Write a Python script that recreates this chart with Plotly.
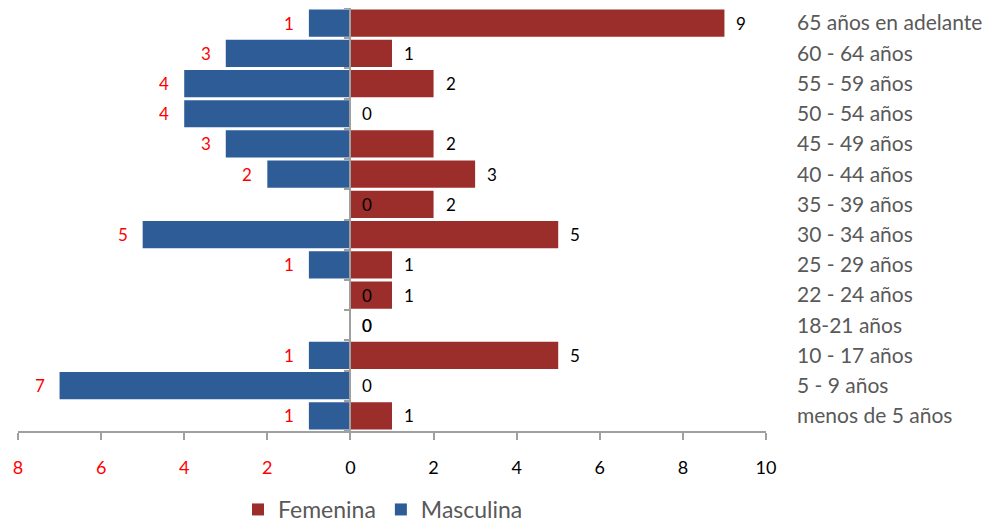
import plotly.graph_objects as go

categories = ["65 años en adelante", "60 - 64 años", "55 - 59 años", "50 - 54 años",
              "45 - 49 años", "40 - 44 años", "35 - 39 años", "30 - 34 años",
              "25 - 29 años", "22 - 24 años", "18-21 años", "10 - 17 años",
              "5 - 9 años", "menos de 5 años"]
femenina = [9, 1, 2, 0, 2, 3, 2, 5, 1, 1, 0, 5, 0, 1]
masculina = [1, 3, 4, 4, 3, 2, 0, 5, 1, 0, 0, 1, 7, 1]
tick_vals = [-8, -6, -4, -2, 0, 2, 4, 6, 8, 10]

RED = "#9B2D2A"
BLUE = "#2D5C96"
GRAY = "#595959"
AXIS = "#A0A0A0"
FONT = "Lato"

n = len(categories)
x_min, x_max = tick_vals[0], tick_vals[-1]

fig = go.Figure()
fig.add_trace(go.Bar(y=categories, x=femenina, orientation="h", name="Femenina",
                     marker=dict(color=RED, line=dict(width=0))))
fig.add_trace(go.Bar(y=categories, x=[-v for v in masculina], orientation="h", name="Masculina",
                     marker=dict(color=BLUE, line=dict(width=0))))
# invisible helper trace so the category-boundary axis at x=0 is drawn
fig.add_trace(go.Scatter(x=[0], y=[0], yaxis="y2", mode="markers",
                         marker=dict(opacity=0), showlegend=False, hoverinfo="skip"))

annotations = []
for c, f, m in zip(categories, femenina, masculina):
    annotations.append(dict(x=f, y=c, text=str(f), showarrow=False, xanchor="left",
                            xshift=10, font=dict(color="black", size=17, family=FONT)))
    if m > 0:
        annotations.append(dict(x=-m, y=c, text=str(m), showarrow=False, xanchor="right",
                                xshift=-13, font=dict(color="red", size=17, family=FONT)))
    else:
        annotations.append(dict(x=0, y=c, text=str(m), showarrow=False, xanchor="left",
                                xshift=10, font=dict(color="black", size=17, family=FONT)))

ticktext = []
for v in tick_vals:
    if v < 0:
        ticktext.append('<span style="color:red">%d</span>' % abs(v))
    else:
        ticktext.append(str(v))

fig.update_layout(
    width=990, height=523,
    margin=dict(l=10, r=232, t=0, b=100),
    plot_bgcolor="white", paper_bgcolor="white",
    barmode="overlay", bargap=0.1,
    font=dict(family=FONT, color=GRAY),
    annotations=annotations,
    xaxis=dict(range=[x_min, x_max], tickvals=tick_vals, ticktext=ticktext,
               showgrid=False, zeroline=False,
               showline=True, linecolor=AXIS, linewidth=1.5,
               ticks="outside", ticklen=7, tickcolor=AXIS, tickwidth=1.5,
               tickfont=dict(size=18, color="black", family=FONT),
               ticklabelstandoff=13, fixedrange=True, automargin=False),
    yaxis=dict(categoryorder="array", categoryarray=categories, autorange="reversed",
               side="right", showgrid=False, showline=False, ticks="", zeroline=False,
               tickfont=dict(size=21, color=GRAY, family=FONT),
               ticklabelstandoff=30, fixedrange=True, automargin=False),
    yaxis2=dict(overlaying="y", anchor="free", position=(0 - x_min) / (x_max - x_min),
                side="left", range=[-0.5, n - 0.5], autorange=False,
                tickvals=[i - 0.5 for i in range(n + 1)], showticklabels=False,
                ticks="outside", ticklen=6, tickcolor=AXIS, tickwidth=1.5,
                showline=True, linecolor=AXIS, linewidth=1.5,
                showgrid=False, zeroline=False, fixedrange=True, automargin=False),
    legend=dict(orientation="h", x=0.488, xanchor="center",
                yref="container", y=-0.012, yanchor="bottom",
                font=dict(size=23, color=GRAY, family=FONT), traceorder="normal",
                itemsizing="constant", itemwidth=30),
    showlegend=True,
)

fig.write_html("out.html")
